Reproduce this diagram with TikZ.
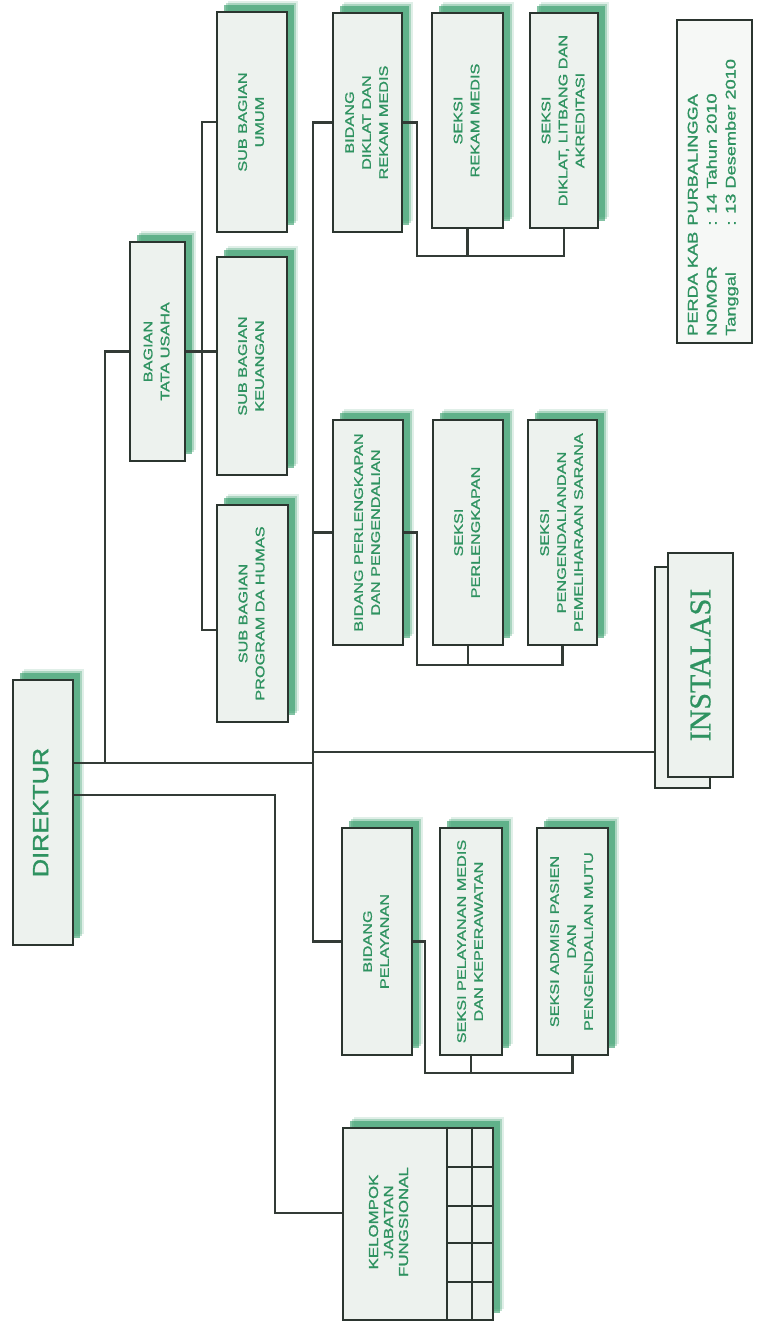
\documentclass[tikz,border=0pt]{standalone}
\usepackage{fontspec}
\setmainfont{Liberation Sans}
\newfontfamily\boxfont[FakeStretch=1.3,FakeBold=1.2]{Liberation Sans}
\newfontfamily\dirfont[FakeStretch=1.15,FakeBold=1.5]{Liberation Sans}
\newfontfamily\instfont[FakeBold=0.8]{Liberation Serif}
\usetikzlibrary{shadows}
\definecolor{boxfill}{HTML}{EDF2EE}
\definecolor{bordercol}{HTML}{2B352F}
\definecolor{textgreen}{HTML}{2E9260}
\definecolor{shadowcol}{HTML}{2F9A66}
\definecolor{linecol}{HTML}{333B36}
\newcommand\rtext[1]{\rotatebox{90}{\begin{tabular}{@{}c@{}}#1\end{tabular}}}
\tikzset{
  orgbox/.style={draw=bordercol, line width=2.8pt, fill=boxfill, inner sep=0pt, text=textgreen,
    font=\boxfont\fontsize{12.5}{17}\selectfont,
    drop shadow={shadow xshift=11pt, shadow yshift=11pt, fill=shadowcol, opacity=0.15},
    drop shadow={shadow xshift=9pt, shadow yshift=9pt, fill=shadowcol, opacity=0.3},
    drop shadow={shadow xshift=7pt, shadow yshift=7pt, fill=shadowcol, opacity=0.6}},
  flatbox/.style={draw=bordercol, line width=2.6pt, fill=boxfill, inner sep=0pt, text=textgreen},
  conn/.style={draw=linecol, line width=2.3pt},
  gridline/.style={draw=bordercol, line width=2pt}
}
\begin{document}
\begin{tikzpicture}[x=1pt,y=-1pt]
\fill[white] (0,0) rectangle (758,1324);
\useasboundingbox (0,0) rectangle (758,1324);

% boxes
\node[orgbox, minimum width=60pt, minimum height=265pt, font=\dirfont\fontsize{22}{26}\selectfont] (direktur) at (43,812.5) {\rtext{DIREKTUR}};
\node[orgbox, minimum width=55pt, minimum height=219pt] (bagian) at (157.5,351.5) {\rtext{BAGIAN\\TATA USAHA}};
\node[orgbox, minimum width=70pt, minimum height=220pt] (umum) at (252,122) {\rtext{SUB BAGIAN\\UMUM}};
\node[orgbox, minimum width=70pt, minimum height=218pt] (keuangan) at (252,366) {\rtext{SUB BAGIAN\\KEUANGAN}};
\node[orgbox, minimum width=71pt, minimum height=217pt] (program) at (252.5,613.5) {\rtext{SUB BAGIAN\\PROGRAM DA HUMAS}};

\node[orgbox, minimum width=69pt, minimum height=219pt] (bdiklat) at (367.5,122.5) {\rtext{BIDANG\\DIKLAT DAN\\REKAM MEDIS}};
\node[orgbox, minimum width=71pt, minimum height=215pt] (srekam) at (467.5,120.5) {\rtext{SEKSI\\REKAM MEDIS}};
\node[orgbox, minimum width=68pt, minimum height=215pt] (sdiklat) at (564,120.5) {\rtext{SEKSI\\DIKLAT, LITBANG DAN\\AKREDITASI}};

\node[orgbox, minimum width=70pt, minimum height=225pt] (bperl) at (368,532.5) {\rtext{BIDANG PERLENGKAPAN\\DAN PENGENDALIAN}};
\node[orgbox, minimum width=70pt, minimum height=225pt] (sperl) at (468,532.5) {\rtext{SEKSI\\PERLENGKAPAN}};
\node[orgbox, minimum width=69pt, minimum height=225pt] (speng) at (562.5,532.5) {\rtext{SEKSI\\PENGENDALIANDAN\\PEMELIHARAAN SARANA}};

\node[orgbox, minimum width=70pt, minimum height=227pt] (bpel) at (377,941.5) {\rtext{BIDANG\\PELAYANAN}};
\node[orgbox, minimum width=62pt, minimum height=227pt] (spel) at (471,941.5) {\rtext{SEKSI PELAYANAN MEDIS\\DAN KEPERAWATAN}};
\node[orgbox, minimum width=71pt, minimum height=227pt] (sadm) at (572.5,941.5) {\rtext{SEKSI ADMISI PASIEN\\DAN\\PENGENDALIAN MUTU}};

\node[orgbox, minimum width=150pt, minimum height=192pt] (kelompok) at (418,1224) {};
\node[text=textgreen, inner sep=0pt, font=\boxfont\fontsize{13}{15}\selectfont] (kelt) at (390,1222) {\rtext{KELOMPOK\\JABATAN\\FUNGSIONAL}};
\draw[gridline] (kelompok.north -| 447,0) -- (kelompok.south -| 447,0);
\draw[gridline, line width=2.6pt] (kelompok.north -| 472,0) -- (kelompok.south -| 472,0);
\foreach \yy in {1167,1206,1243,1282}{
  \draw[gridline] (447,\yy) -- (kelompok.east |- 0,\yy);
}

% instalasi
\node[flatbox, line width=2.4pt, minimum width=55pt, minimum height=221pt] (instb) at (682.5,677.5) {};
\node[flatbox, minimum width=65pt, minimum height=224pt, font=\instfont\fontsize{30}{34}\selectfont] (inst) at (700.5,665) {\rotatebox{90}{INSTALASI}};

% perda
\node[draw=bordercol, line width=2.2pt, fill=boxfill!50!white, minimum width=75pt, minimum height=323pt, inner sep=0pt] (perda) at (714.5,181.5) {};
\node[anchor=south west, inner sep=0pt, text=textgreen, font=\boxfont\fontsize{14}{19}\selectfont] (perdat) at (684,336) {\rotatebox{90}{\begin{tabular}{@{}l@{\hspace{6pt}}l@{}}PERDA KAB & PURBALINGGA\\NOMOR & : 14 Tahun 2010\\Tanggal & : 13 Desember 2010\end{tabular}}};

% connectors
\coordinate (trunkbot) at (313,941.5);
\coordinate (jB) at (105,763);
\coordinate (jK) at (275,795);
\draw[conn] (bdiklat.west) -| (trunkbot) -- (bpel.west);
\draw[conn] (bperl.west) -- (bperl.west -| trunkbot);
\draw[conn] (direktur.east |- jB) -- (trunkbot |- jB);
\draw[conn] (instb.west |- 0,752) -- (trunkbot |- 0,752);
\draw[conn] (jB) |- (bagian.west);
\draw[conn] (bagian.east) -- (keuangan.west |- bagian.east);
\draw[conn] (umum.west) -| (202,630) -- (program.west |- 0,630);
\draw[conn] (direktur.east |- jK) -- (jK) |- (kelompok.west |- 0,1213);

\draw[conn] (bdiklat.east) -| (417,256) -| (sdiklat.south);
\draw[conn] (srekam.south) -- (srekam.south |- 0,256);
\draw[conn] (bperl.east) -| (417,665) -| (speng.south);
\draw[conn] (sperl.south) -- (sperl.south |- 0,665);
\draw[conn] (bpel.east) -| (425,1073) -| (sadm.south);
\draw[conn] (spel.south) -- (spel.south |- 0,1073);
\end{tikzpicture}
\end{document}
